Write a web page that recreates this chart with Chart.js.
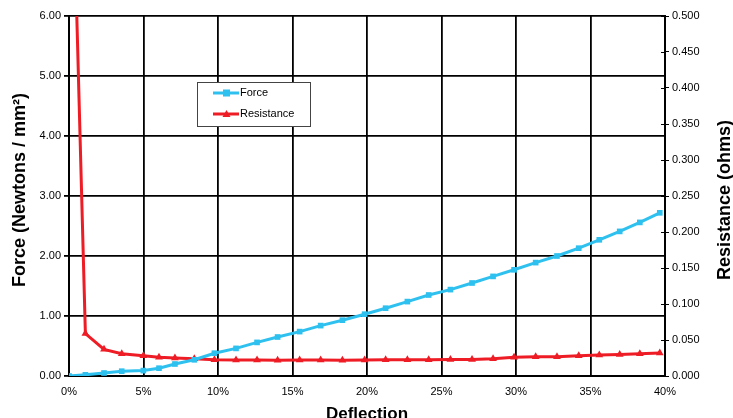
<!DOCTYPE html>
<html>
<head>
<meta charset="utf-8">
<script src="https://cdn.jsdelivr.net/npm/chart.js@4"></script>
<style>
  html, body { margin: 0; padding: 0; background: #fff; }
  #wrap { width: 733px; height: 418px; }
</style>
</head>
<body>
<div id="wrap"><canvas id="chart" width="733" height="418"></canvas></div>
<script>
// deflection in %, force in N/mm², resistance in ohms
const deflection = [0, 1.1, 2.35, 3.54, 4.99, 6.04, 7.11, 8.41, 9.76, 11.21, 12.62, 14.0, 15.48, 16.89, 18.35, 19.84, 21.25, 22.71, 24.14, 25.6, 27.05, 28.46, 29.87, 31.32, 32.75, 34.21, 35.59, 36.96, 38.31, 39.65];
const force = [0, 0.02, 0.05, 0.08, 0.09, 0.13, 0.2, 0.27, 0.38, 0.46, 0.56, 0.65, 0.74, 0.84, 0.93, 1.03, 1.13, 1.24, 1.35, 1.44, 1.55, 1.66, 1.77, 1.89, 2.0, 2.13, 2.27, 2.41, 2.56, 2.72];
const resistance = [0.9, 0.059, 0.037, 0.031, 0.028, 0.026, 0.025, 0.024, 0.0225, 0.0222, 0.0222, 0.022, 0.0222, 0.0222, 0.022, 0.0222, 0.0225, 0.0225, 0.0225, 0.0228, 0.023, 0.024, 0.026, 0.0268, 0.0268, 0.028, 0.029, 0.030, 0.031, 0.032];

const xTitle = 'Deflection';
const yTitle = 'Force (Newtons / mm²)';
const y1Title = 'Resistance (ohms)';

const BLUE = '#2ec1ef';
const RED = '#ee1c25';
const FONT = '"Liberation Sans", Arial, Helvetica, sans-serif';

const toPoints = (ys) => deflection.map((x, i) => ({ x, y: ys[i] }));

// titles + legend box drawn by hand (legend sits inside the plot)
const extras = {
  id: 'extras',
  afterDraw(chart) {
    const c = chart.ctx;
    const area = chart.chartArea;
    c.save();
    c.fillStyle = '#000';
    c.font = 'bold 17px ' + FONT;
    c.textAlign = 'center';
    c.textBaseline = 'alphabetic';
    c.fillText(xTitle, (area.left + area.right) / 2, 419);

    c.font = 'bold 18px ' + FONT;
    c.textBaseline = 'middle';
    c.save();
    c.translate(20, 190);
    c.rotate(-Math.PI / 2);
    c.fillText(yTitle, 0, 0);
    c.restore();
    c.save();
    c.translate(725, 200);
    c.rotate(-Math.PI / 2);
    c.fillText(y1Title, 0, 0);
    c.restore();

    // inner half of the right axis ticks
    const y1 = chart.scales.y1;
    c.strokeStyle = '#000';
    c.lineWidth = 1;
    y1.ticks.forEach((t) => {
      const py = Math.round(y1.getPixelForValue(t.value)) + 0.5;
      c.beginPath();
      c.moveTo(area.right - 4, py);
      c.lineTo(area.right, py);
      c.stroke();
    });

    // legend
    c.fillStyle = '#fff';
    c.fillRect(197, 82, 113, 44);
    c.strokeStyle = '#444';
    c.lineWidth = 1;
    c.strokeRect(197.5, 82.5, 113, 44);
    const items = [
      { label: 'Force', color: BLUE, y: 93, shape: 'rect' },
      { label: 'Resistance', color: RED, y: 114, shape: 'tri' }
    ];
    items.forEach((it) => {
      c.strokeStyle = it.color;
      c.fillStyle = it.color;
      c.lineWidth = 3;
      c.beginPath();
      c.moveTo(213, it.y);
      c.lineTo(239, it.y);
      c.stroke();
      if (it.shape === 'rect') {
        c.fillRect(223, it.y - 3.5, 7, 7);
      } else {
        c.beginPath();
        c.moveTo(226.5, it.y - 4);
        c.lineTo(230.5, it.y + 3);
        c.lineTo(222.5, it.y + 3);
        c.closePath();
        c.fill();
      }
      c.fillStyle = '#000';
      c.font = '11px ' + FONT;
      c.textAlign = 'left';
      c.textBaseline = 'middle';
      c.fillText(it.label, 240, it.y);
    });
    c.restore();
  }
};

new Chart(document.getElementById('chart'), {
  type: 'line',
  data: {
    datasets: [
      {
        label: 'Force',
        data: toPoints(force),
        yAxisID: 'y',
        borderColor: BLUE,
        backgroundColor: BLUE,
        borderWidth: 3,
        pointStyle: 'rect',
        pointRadius: 4,
        pointBorderWidth: 0,
        tension: 0
      },
      {
        label: 'Resistance',
        data: toPoints(resistance),
        yAxisID: 'y1',
        borderColor: RED,
        backgroundColor: RED,
        borderWidth: 3,
        pointStyle: 'triangle',
        pointRadius: 4.5,
        pointBorderWidth: 0,
        tension: 0
      }
    ]
  },
  plugins: [extras],
  options: {
    responsive: false,
    animation: false,
    layout: { padding: { top: 16, left: 0, right: 0, bottom: 0 } },
    plugins: {
      legend: { display: false },
      tooltip: { enabled: false }
    },
    scales: {
      x: {
        type: 'linear',
        min: 0,
        max: 40,
        afterFit: (s) => { s.height = 42; },
        ticks: {
          stepSize: 5,
          color: '#000',
          padding: 9,
          font: { family: FONT, size: 11 },
          callback: (v) => v + '%'
        },
        grid: { color: '#000', lineWidth: 1.8, drawTicks: false },
        border: { color: '#000', width: 2 }
      },
      y: {
        position: 'left',
        min: 0,
        max: 6,
        afterFit: (s) => { s.width = 69; },
        ticks: {
          stepSize: 1,
          color: '#000',
          padding: 3,
          font: { family: FONT, size: 11 },
          callback: (v) => v.toFixed(2)
        },
        grid: { color: '#000', lineWidth: 1.8, tickLength: 5 },
        border: { color: '#000', width: 2 }
      },
      y1: {
        position: 'right',
        min: 0,
        max: 0.5,
        afterFit: (s) => { s.width = 68; },
        ticks: {
          stepSize: 0.05,
          color: '#000',
          padding: 3,
          font: { family: FONT, size: 11 },
          callback: (v) => v.toFixed(3)
        },
        grid: { drawOnChartArea: false, color: '#000', lineWidth: 1, tickLength: 4 },
        border: { color: '#000', width: 2 }
      }
    }
  }
});
</script>
</body>
</html>
